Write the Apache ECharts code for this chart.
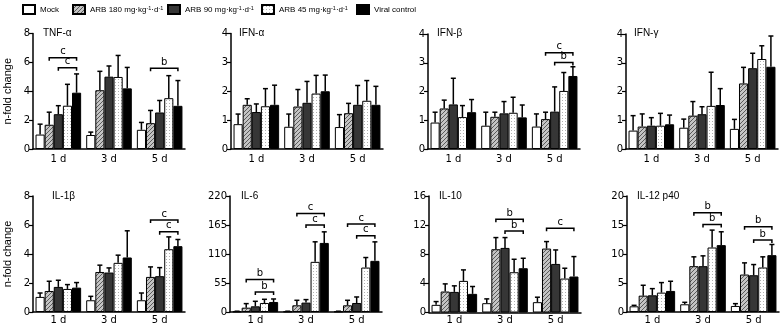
<!DOCTYPE html>
<html>
<head>
<meta charset="utf-8">
<script src="https://cdn.jsdelivr.net/npm/echarts@6/dist/echarts.min.js"></script>
<style>
  html, body { margin: 0; padding: 0; background: #fff; }
  #chart { width: 784px; height: 327px; }
</style>
</head>
<body>
<div id="chart"></div>
<script>
// groups and days
const seriesNames = ['Mock', 'ARB 180 mg·kg-1·d-1', 'ARB 90 mg·kg-1·d-1', 'ARB 45 mg·kg-1·d-1', 'Viral control']
const days = ['1 d', '3 d', '5 d']
const panelNames = ['TNF-α', 'IFN-α', 'IFN-β', 'IFN-γ', 'IL-1β', 'IL-6', 'IL-10', 'IL-12 p40']
const yMax = [8, 4, 4, 4, 8, 220, 16, 20]
const yStep = [2, 1, 1, 1, 2, 55, 4, 5]

// mean values, one row per day, columns follow seriesNames
const tnfMean = [[1.0, 1.68, 2.41, 3.0, 3.9], [0.97, 4.07, 5.01, 4.99, 4.2], [1.33, 1.79, 2.53, 3.52, 2.99]]
const tnfSd = [[0.72, 0.87, 0.59, 1.48, 1.3], [0.2, 1.31, 0.74, 1.49, 1.45], [0.51, 0.88, 0.83, 1.56, 1.75]]
const ifnaMean = [[0.86, 1.53, 1.28, 1.48, 1.53], [0.77, 1.47, 1.6, 1.92, 2.0], [0.76, 1.24, 1.53, 1.67, 1.53]]
const ifnaSd = [[0.35, 0.21, 0.28, 0.61, 0.68], [0.44, 0.59, 0.74, 0.63, 0.56], [0.43, 0.34, 0.67, 0.7, 0.64]]
const ifnbMean = [[0.92, 1.41, 1.55, 1.11, 1.28], [0.81, 1.12, 1.24, 1.26, 1.1], [0.78, 1.04, 1.3, 2.02, 2.54]]
const ifnbSd = [[0.36, 0.29, 0.91, 0.4, 0.44], [0.47, 0.16, 0.41, 0.54, 0.43], [0.44, 0.24, 0.86, 0.64, 0.32]]
const ifngMean = [[0.64, 0.78, 0.81, 0.81, 0.86], [0.74, 1.16, 1.21, 1.5, 1.53], [0.7, 2.28, 2.81, 3.13, 2.86]]
const ifngSd = [[0.52, 0.44, 0.28, 0.43, 0.32], [0.3, 0.49, 0.26, 1.17, 0.57], [0.33, 0.56, 0.52, 0.46, 1.07]]
const il1bMean = [[1.04, 1.45, 1.73, 1.59, 1.68], [0.81, 2.76, 2.72, 3.39, 3.76], [0.81, 2.42, 2.47, 4.33, 4.54]]
const il1bSd = [[0.27, 0.67, 0.46, 0.3, 0.35], [0.27, 0.47, 0.32, 0.53, 1.84], [0.5, 0.69, 0.59, 0.85, 0.46]]
const il6Mean = [[1, 8.2, 10.8, 17.1, 19.0], [1, 12.7, 17.8, 95.1, 131], [1, 12.7, 17.1, 84.3, 97]]
const il6Sd = [[0.5, 7.7, 9.5, 7.0, 5.7], [0.5, 9.5, 5.7, 38, 21], [0.5, 9.5, 11.4, 19, 36]]
const il10Mean = [[1.05, 2.88, 2.83, 4.34, 2.56], [1.28, 8.69, 8.87, 5.53, 6.08], [1.42, 8.78, 6.67, 4.66, 4.94]]
const il10Sd = [[0.45, 1.05, 0.83, 1.51, 1.01], [0.59, 1.6, 1.42, 1.78, 1.37], [0.68, 0.96, 1.92, 1.42, 2.74]]
const il12Mean = [[0.98, 2.82, 2.88, 3.34, 3.63], [1.33, 7.9, 7.9, 11.12, 11.53], [1.04, 6.46, 6.34, 7.67, 9.8]]
const il12Sd = [[0.17, 1.79, 1.15, 1.73, 1.67], [0.34, 1.61, 1.78, 3.0, 2.3], [0.4, 2.01, 1.84, 1.84, 1.84]]

// significance brackets: [day, fromBar, toBar, height, letter]
const tnfMarks = [[0, 1, 4, 6.32, 'c'], [0, 2, 4, 5.63, 'c'], [2, 1, 4, 5.59, 'b']]
const ifnbMarks = [[2, 1, 4, 3.35, 'c'], [2, 2, 4, 3.01, 'b']]
const il1bMarks = [[2, 1, 4, 6.34, 'c'], [2, 2, 4, 5.53, 'c']]
const il6Marks = [[0, 1, 4, 61.5, 'b'], [0, 2, 4, 38, 'b'], [1, 1, 4, 187, 'c'], [1, 2, 4, 165, 'c'], [2, 1, 4, 167, 'c'], [2, 2, 4, 144.6, 'c']]
const il10Marks = [[1, 1, 4, 12.8, 'b'], [1, 2, 4, 11.2, 'b'], [2, 1, 4, 11.57, 'c']]
const il12Marks = [[1, 1, 4, 17.1, 'b'], [1, 2, 4, 15.1, 'b'], [2, 1, 4, 14.7, 'b'], [2, 2, 4, 12.4, 'b']]

const means = [tnfMean, ifnaMean, ifnbMean, ifngMean, il1bMean, il6Mean, il10Mean, il12Mean]
const sds = [tnfSd, ifnaSd, ifnbSd, ifngSd, il1bSd, il6Sd, il10Sd, il12Sd]
const marks = [tnfMarks, [], ifnbMarks, [], il1bMarks, il6Marks, il10Marks, il12Marks]

// layout
const gridLeft = [33, 231, 428, 626, 33, 230, 429, 627]
const gridTop = [33.5, 33.5, 34, 34, 196, 196, 196, 196]
const gridH = [115.5, 115.5, 115, 115, 116, 116, 116.5, 116]
const titlePos = [[43, 28], [239, 28], [437, 28], [634, 28], [52, 191], [241, 191], [439, 191], [637, 191]]
const legendLeft = [22, 72, 167, 261, 356]

const narrow = '"Liberation Sans Narrow", "Liberation Sans", Arial, sans-serif'
const numFont = '"DejaVu Sans", Verdana, sans-serif'
const CAT_GAP = 0.1

const makeHatch = () => {
  const c = document.createElement('canvas')
  c.width = 4; c.height = 4
  const g = c.getContext('2d')
  g.fillStyle = '#c4c4c4'
  g.fillRect(0, 0, 4, 4)
  g.strokeStyle = '#5a5a5a'
  g.lineWidth = 1
  g.beginPath()
  g.moveTo(0, 4); g.lineTo(4, 0)
  g.moveTo(-1, 1); g.lineTo(1, -1)
  g.moveTo(3, 5); g.lineTo(5, 3)
  g.stroke()
  return c
}

const makeDots = () => {
  const c = document.createElement('canvas')
  c.width = 3; c.height = 3
  const g = c.getContext('2d')
  g.fillStyle = '#ffffff'
  g.fillRect(0, 0, 3, 3)
  g.fillStyle = '#b0b0b0'
  g.fillRect(1, 1, 1, 1)
  return c
}

const fills = [
  '#ffffff',
  { image: makeHatch(), repeat: 'repeat' },
  '#363636',
  { image: makeDots(), repeat: 'repeat' },
  '#000000'
]

const chart = echarts.init(document.getElementById('chart'))

const option = {
  animation: false,
  backgroundColor: '#fff',
  title: [],
  legend: [],
  grid: [],
  xAxis: [],
  yAxis: [],
  series: []
}

seriesNames.forEach((name, i) => {
  option.legend.push({
    data: [name],
    left: legendLeft[i],
    top: 4,
    padding: 0,
    itemWidth: 12,
    itemHeight: 9,
    itemGap: 0,
    icon: 'rect',
    selectedMode: false,
    formatter: n => n.replace(/-1/g, '{s|-1}'),
    textStyle: {
      fontSize: 8,
      fontFamily: narrow,
      color: '#000',
      rich: {
        s: { fontSize: 5.5, verticalAlign: 'top', fontFamily: narrow, color: '#000' }
      }
    }
  })
})

panelNames.forEach((pname, p) => {
  option.title.push({
    text: pname,
    left: titlePos[p][0],
    top: titlePos[p][1],
    padding: 0,
    textStyle: { fontSize: 10, fontWeight: 'normal', fontFamily: narrow, color: '#000' }
  })
  option.grid.push({ left: gridLeft[p], top: gridTop[p], width: 152, height: gridH[p] })
  option.xAxis.push({
    gridIndex: p,
    type: 'category',
    data: days,
    axisLine: { lineStyle: { color: '#000', width: 1.5 } },
    axisTick: { show: false },
    axisLabel: { color: '#000', fontSize: 10, fontFamily: numFont, margin: p < 4 ? 5 : 3 }
  })
  const yAx = {
    gridIndex: p,
    type: 'value',
    min: 0,
    max: yMax[p],
    interval: yStep[p],
    splitLine: { show: false },
    axisLine: { show: true, lineStyle: { color: '#000', width: 1.5 } },
    axisTick: { show: true, length: 4, lineStyle: { color: '#000', width: 1.2 } },
    axisLabel: { color: '#000', fontSize: 10, fontFamily: numFont, margin: 3 }
  }
  if (p === 0 || p === 4) {
    yAx.name = 'n-fold change'
    yAx.nameLocation = 'middle'
    yAx.nameGap = 20
    yAx.nameTextStyle = { fontSize: 11, fontFamily: narrow, color: '#000' }
  }
  option.yAxis.push(yAx)

  seriesNames.forEach((name, i) => {
    option.series.push({
      name,
      type: 'bar',
      xAxisIndex: p,
      yAxisIndex: p,
      data: means[p].map(row => row[i]),
      barGap: 0,
      barCategoryGap: CAT_GAP * 100 + '%',
      itemStyle: { color: fills[i], borderColor: '#000', borderWidth: 1 }
    })
  })

  // error bars, upper whisker only
  const errData = []
  means[p].forEach((row, d) => {
    row.forEach((m, i) => errData.push([d, m, m + sds[p][d][i], i]))
  })
  option.series.push({
    type: 'custom',
    xAxisIndex: p,
    yAxisIndex: p,
    z: 5,
    silent: true,
    data: errData,
    renderItem: (params, api) => {
      const band = api.size([1, 0])[0]
      const w = band * (1 - CAT_GAP) / 5
      const c = api.coord([api.value(0), api.value(1)])
      const t = api.coord([api.value(0), api.value(2)])
      const x = c[0] + (api.value(3) - 2) * w
      return {
        type: 'group',
        children: [
          { type: 'line', shape: { x1: x, y1: c[1], x2: x, y2: t[1] }, style: { stroke: '#000', lineWidth: 1.5 } },
          { type: 'line', shape: { x1: x - 2.5, y1: t[1], x2: x + 2.5, y2: t[1] }, style: { stroke: '#000', lineWidth: 1.5 } }
        ]
      }
    }
  })

  // significance brackets
  const mk = marks[p]
  if (mk.length) {
    option.series.push({
      type: 'custom',
      xAxisIndex: p,
      yAxisIndex: p,
      z: 6,
      silent: true,
      data: mk.map(m => [m[0], m[3], m[1], m[2]]),
      renderItem: (params, api) => {
        const band = api.size([1, 0])[0]
        const w = band * (1 - CAT_GAP) / 5
        const c = api.coord([api.value(0), api.value(1)])
        const x1 = c[0] + (api.value(2) - 2) * w
        const x2 = c[0] + (api.value(3) - 2) * w
        const y = c[1]
        return {
          type: 'group',
          children: [
            {
              type: 'polyline',
              shape: { points: [[x1, y + 3], [x1, y], [x2, y], [x2, y + 3]] },
              style: { stroke: '#000', lineWidth: 1.5, fill: null }
            },
            {
              type: 'text',
              style: {
                x: (x1 + x2) / 2,
                y: y - 1,
                text: mk[params.dataIndex][4],
                align: 'center',
                verticalAlign: 'bottom',
                fontSize: 10,
                fontFamily: numFont,
                fill: '#000'
              }
            }
          ]
        }
      }
    })
  }
})

chart.setOption(option)
window.addEventListener('resize', () => chart.resize())
</script>
</body>
</html>
